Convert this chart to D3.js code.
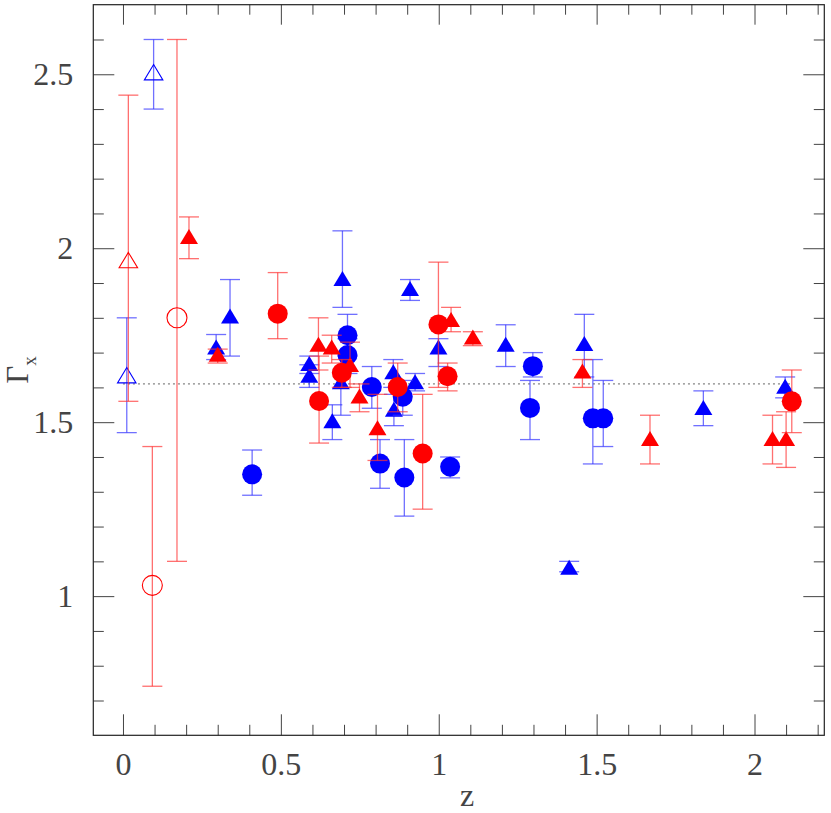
<!DOCTYPE html>
<html><head><meta charset="utf-8">
<script src="https://cdn.jsdelivr.net/npm/d3@7"></script>
<style>body{margin:0;background:#fff}svg{display:block}</style>
</head><body>
<script>
// ---- data: rows are [z, Gamma, lower error end, upper error end] ----
const blueTriangles = [
  [0.295,1.716,1.68,1.752],[0.339,1.805,1.69,1.91],[0.590,1.669,1.64,1.69],[0.590,1.635,1.60,1.665],
  [0.663,1.504,1.45,1.55],[0.690,1.616,1.52,1.70],[0.695,1.913,1.83,2.05],[0.856,1.645,1.60,1.68],
  [0.858,1.537,1.49,1.58],[0.909,1.884,1.85,1.91],[0.925,1.616,1.59,1.64],[0.999,1.716,1.66,1.74],
  [1.212,1.724,1.66,1.78],[1.413,1.083,1.07,1.10],[1.461,1.726,1.63,1.81],[1.838,1.542,1.49,1.59],
  [2.097,1.603,1.57,1.63]
];
const blueCircles = [
  [0.409,1.350,1.29,1.42],[0.711,1.750,1.69,1.81],[0.711,1.693,1.64,1.74],[0.788,1.601,1.54,1.66],
  [0.814,1.381,1.31,1.45],[0.886,1.573,1.52,1.62],[0.891,1.341,1.23,1.45],[1.036,1.372,1.34,1.40],
  [1.289,1.541,1.45,1.62],[1.298,1.661,1.63,1.70],[1.488,1.511,1.38,1.68],[1.521,1.511,1.43,1.62]
];
const redTriangles = [
  [0.209,2.034,1.97,2.09],[0.300,1.695,1.67,1.71],[0.619,1.724,1.65,1.80],[0.661,1.716,1.67,1.75],
  [0.719,1.666,1.60,1.73],[0.749,1.575,1.53,1.61],[0.806,1.484,1.39,1.58],[1.039,1.795,1.76,1.83],
  [1.108,1.745,1.72,1.76],[1.455,1.647,1.60,1.68],[1.669,1.453,1.38,1.52],[2.057,1.453,1.38,1.52],
  [2.100,1.453,1.37,1.53]
];
const redCircles = [
  [0.490,1.812,1.74,1.93],[0.621,1.561,1.44,1.69],[0.693,1.642,1.60,1.68],[0.870,1.601,1.53,1.67],
  [0.949,1.410,1.25,1.58],[0.999,1.781,1.60,1.96],[1.028,1.632,1.59,1.67],[2.118,1.560,1.47,1.65]
];
const blueOpenTriangles = [[0.012,1.635,1.47,1.80],[0.097,2.506,2.40,2.60]];
const redOpenTriangles  = [[0.017,1.966,1.56,2.44]];
const redOpenCircles    = [[0.093,1.031,0.741,1.43],[0.171,1.800,1.10,2.60]];
const referenceGamma = 1.61;
const referenceZRange = [0, 2.12];

const xMajorTicks = [0, 0.5, 1, 1.5, 2];
const xTickLabels = ["0", "0.5", "1", "1.5", "2"];
const yMajorTicks = [1, 1.5, 2, 2.5];
const yTickLabels = ["1", "1.5", "2", "2.5"];
const xMinorTicks = [0.1,0.2,0.3,0.4,0.6,0.7,0.8,0.9,1.1,1.2,1.3,1.4,1.6,1.7,1.8,1.9,2.1,2.2];
const yMinorTicks = [0.7,0.8,0.9,1.1,1.2,1.3,1.4,1.6,1.7,1.8,1.9,2.1,2.2,2.3,2.4,2.6];
const xLabel = "z";

// ---- drawing ----
const W = 831, H = 813;
const L = 93.3, R = 824.3, T = 4.7, B = 735.3;
const x = d3.scaleLinear().domain([-0.094, 2.221]).range([L, R]);
const y = d3.scaleLinear().domain([0.6, 2.7]).range([B, T]);

const svg = d3.select("body").append("svg").attr("width", W).attr("height", H);
const font = "'Liberation Serif','DejaVu Serif',serif";

function styleAxis(g){
  g.select(".domain").remove();
  g.selectAll("line").attr("stroke", "#444").attr("stroke-width", 1);
  g.selectAll("text").attr("font-family", font).attr("font-size", 32).attr("fill", "#444");
}
// bottom
svg.append("g").attr("transform", `translate(0,${B})`)
  .call(d3.axisBottom(x).tickValues(xMajorTicks).tickSize(-21).tickPadding(17)
    .tickFormat((d,i) => xTickLabels[i])).call(styleAxis);
svg.append("g").attr("transform", `translate(0,${B})`)
  .call(d3.axisBottom(x).tickValues(xMinorTicks).tickSize(-10.5).tickFormat("")).call(styleAxis);
// top
svg.append("g").attr("transform", `translate(0,${T})`)
  .call(d3.axisTop(x).tickValues(xMajorTicks).tickSize(-20).tickFormat("")).call(styleAxis);
svg.append("g").attr("transform", `translate(0,${T})`)
  .call(d3.axisTop(x).tickValues(xMinorTicks).tickSize(-10).tickFormat("")).call(styleAxis);
// left
svg.append("g").attr("transform", `translate(${L},0)`)
  .call(d3.axisLeft(y).tickValues(yMajorTicks).tickSize(-21).tickPadding(20)
    .tickFormat((d,i) => yTickLabels[i])).call(styleAxis);
svg.append("g").attr("transform", `translate(${L},0)`)
  .call(d3.axisLeft(y).tickValues(yMinorTicks).tickSize(-10.5).tickFormat("")).call(styleAxis);
// right
svg.append("g").attr("transform", `translate(${R},0)`)
  .call(d3.axisRight(y).tickValues(yMajorTicks).tickSize(-21).tickFormat("")).call(styleAxis);
svg.append("g").attr("transform", `translate(${R},0)`)
  .call(d3.axisRight(y).tickValues(yMinorTicks).tickSize(-10.5).tickFormat("")).call(styleAxis);

// frame
svg.append("rect").attr("x", L).attr("y", T).attr("width", R - L).attr("height", B - T)
  .attr("fill", "none").attr("stroke", "#222").attr("stroke-width", 1.2);

// axis titles
svg.append("text").attr("x", 467).attr("y", 806).attr("text-anchor", "middle")
  .attr("font-family", font).attr("font-size", 32).attr("fill", "#444").text(xLabel);
const yl = svg.append("text").attr("transform", "translate(28,370) rotate(-90)")
  .attr("text-anchor", "middle").attr("font-family", font).attr("font-size", 31).attr("fill", "#444");
yl.append("tspan").text("Γ");
yl.append("tspan").attr("font-size", 19).attr("dy", 8).text("x");

// reference dotted line
svg.append("line")
  .attr("x1", x(referenceZRange[0])).attr("x2", x(referenceZRange[1]))
  .attr("y1", y(referenceGamma)).attr("y2", y(referenceGamma))
  .attr("stroke", "#666").attr("stroke-width", 1).attr("stroke-dasharray", "2,3");

const plot = svg.append("g");
const triPath = (s, h) => `M0,${-h/2}L${s/2},${h/2}L${-s/2},${h/2}Z`;

function drawSeries(rows, color, errColor, shape, filled){
  const g = plot.append("g");
  const eb = g.selectAll("g.eb").data(rows).join("g").attr("class", "eb")
    .attr("stroke", errColor).attr("stroke-width", 1.3).attr("stroke-opacity", 0.7);
  eb.append("line").attr("x1", d => x(d[0])).attr("x2", d => x(d[0]))
    .attr("y1", d => y(d[2])).attr("y2", d => y(d[3]));
  eb.append("line").attr("x1", d => x(d[0]) - 10).attr("x2", d => x(d[0]) + 10)
    .attr("y1", d => y(d[2])).attr("y2", d => y(d[2]));
  eb.append("line").attr("x1", d => x(d[0]) - 10).attr("x2", d => x(d[0]) + 10)
    .attr("y1", d => y(d[3])).attr("y2", d => y(d[3]));
  const m = g.selectAll("path.m").data(rows).join("path").attr("class", "m")
    .attr("transform", d => `translate(${x(d[0])},${y(d[1])})`)
    .attr("d", shape === "tri" ? (filled ? triPath(18, 15) : triPath(18.5, 15.3))
                               : d3.arc()({innerRadius: 0, outerRadius: 10, startAngle: 0, endAngle: 2*Math.PI}));
  if (filled) m.attr("fill", color).attr("stroke", "none");
  else m.attr("fill", "none").attr("stroke", color).attr("stroke-width", 1.1);
}

drawSeries(blueOpenTriangles, "#0000ff", "#3333ff", "tri", false);
drawSeries(redOpenTriangles, "#ff0000", "#ff3333", "tri", false);
drawSeries(redOpenCircles, "#ff0000", "#ff3333", "circle", false);
drawSeries(blueTriangles, "#0000ff", "#3333ff", "tri", true);
drawSeries(blueCircles, "#0000ff", "#3333ff", "circle", true);
drawSeries(redTriangles, "#ff0000", "#ff3333", "tri", true);
drawSeries(redCircles, "#ff0000", "#ff3333", "circle", true);
</script>
</body></html>
